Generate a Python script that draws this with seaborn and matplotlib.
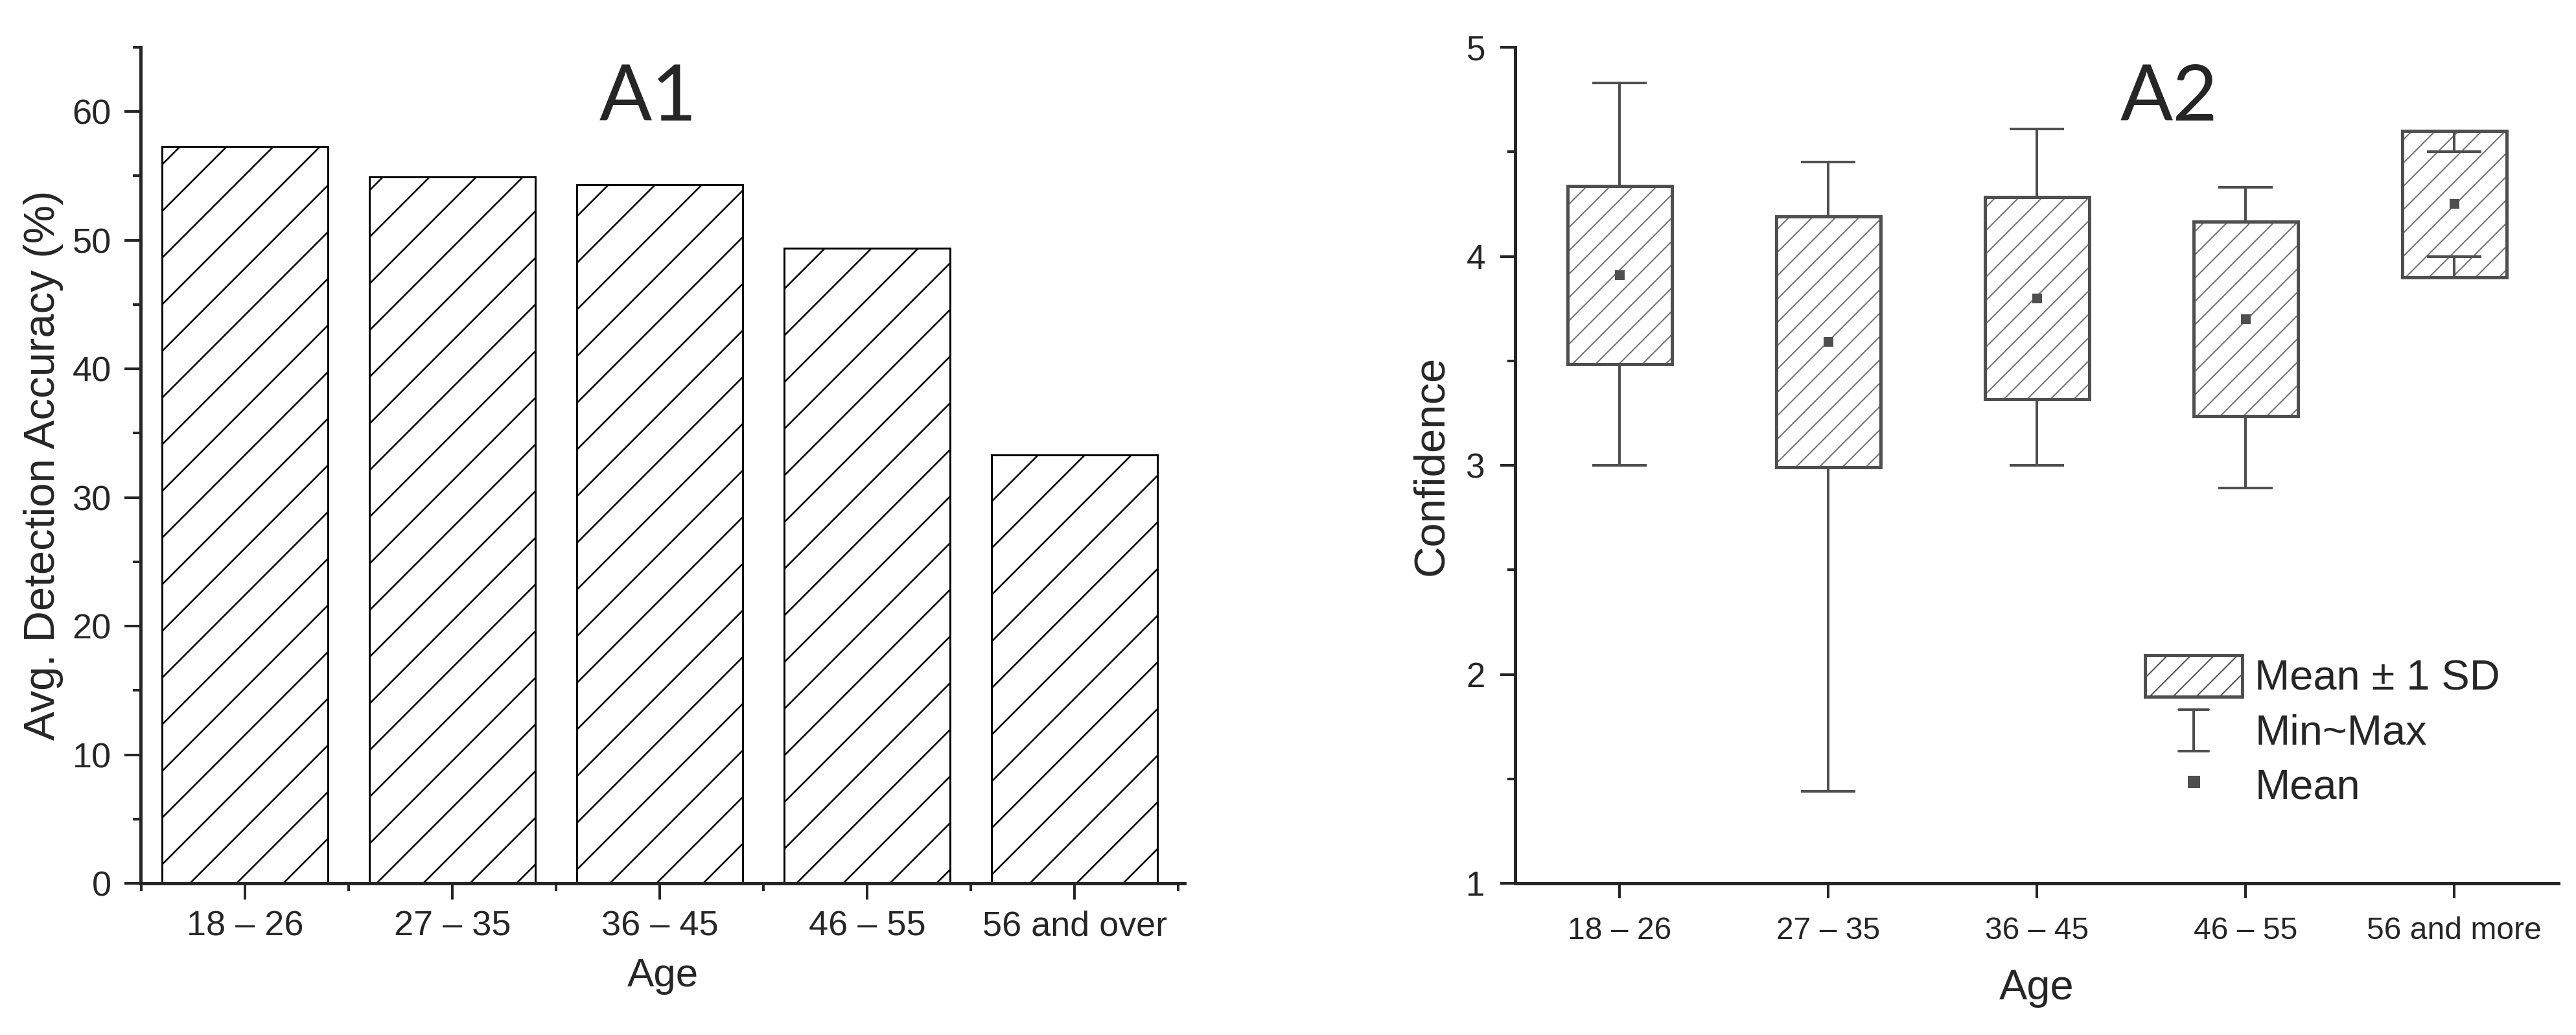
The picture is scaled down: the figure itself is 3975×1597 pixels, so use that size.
import numpy as np
import matplotlib
matplotlib.use('Agg')
import matplotlib.pyplot as plt
import seaborn as sns
from matplotlib.legend_handler import HandlerBase
from matplotlib.lines import Line2D
from matplotlib.patches import Patch
from matplotlib.ticker import MultipleLocator

sns.set_style("ticks")
plt.rcParams['font.family'] = ['Liberation Sans', 'DejaVu Sans']

# ---------------- data
age_a1 = ['18 – 26', '27 – 35', '36 – 45', '46 – 55', '56 and over']
accuracy = [57.3, 54.9, 54.3, 49.4, 33.3]

age_a2 = ['18 – 26', '27 – 35', '36 – 45', '46 – 55', '56 and more']
conf_mean = [3.91, 3.59, 3.80, 3.70, 4.25]
conf_sd = [0.425, 0.60, 0.485, 0.465, 0.35]
conf_min = [3.0, 1.44, 3.0, 2.89, 4.0]
conf_max = [4.83, 4.45, 4.61, 4.33, 4.5]

GREY = '#4f4f4f'
HATCH_GREY = '#707070'
DPI = 216  # hatch cell = DPI px, so '/' gives ~36 px spacing


def pt(px):
    # sizes below are measured in output pixels
    return px * 72 / DPI


fig = plt.figure(figsize=(3975 / DPI, 1597 / DPI), dpi=DPI)
ax1 = fig.add_axes([217 / 3975, 234 / 1597, 1611 / 3975, 1290 / 1597])
ax2 = fig.add_axes([2338 / 3975, 234 / 1597, 1610 / 3975, 1290 / 1597])

# ---------------- A1 : bar chart
plt.rcParams['hatch.linewidth'] = pt(2.6)
sns.barplot(x=age_a1, y=accuracy, ax=ax1, color='white', edgecolor='black',
            linewidth=pt(3), width=0.8, hatch='/', saturation=1, errorbar=None)
for p in ax1.patches:
    if hasattr(p, 'set_hatch_linewidth'):
        p.set_hatch_linewidth(pt(2.6))

ax1.set_xlim(-0.503, 4.53)
ax1.set_ylim(0, 65)
ax1.yaxis.set_major_locator(MultipleLocator(10))
ax1.yaxis.set_minor_locator(MultipleLocator(5))
ax1.set_xticks(np.arange(-0.5, 5, 1), minor=True)
ax1.set_xlabel('Age', fontsize=pt(62))
ax1.set_ylabel('Avg. Detection Accuracy (%)', fontsize=pt(67))
ax1.xaxis.set_label_coords(0.5, -0.089)
ax1.yaxis.set_label_coords(-0.074, 0.5)
ax1.tick_params(axis='both', which='major', direction='out', length=pt(25), width=pt(4), labelsize=pt(54))
ax1.tick_params(axis='both', which='minor', direction='out', length=pt(12), width=pt(4))
ax1.tick_params(axis='x', which='major', pad=pt(16))
ax1.tick_params(axis='y', which='major', pad=pt(20))
sns.despine(ax=ax1)
for s in ['left', 'bottom']:
    ax1.spines[s].set_linewidth(pt(5))

# ---------------- A2 : mean +- SD boxes with min/max whiskers
plt.rcParams['hatch.linewidth'] = pt(2)
x_pos = np.arange(len(age_a2))
mean = np.array(conf_mean)
sd = np.array(conf_sd)
sd_lo = mean - sd
sd_hi = mean + sd

# hatch fill in a lighter grey, outline drawn on top in dark grey
fills = ax2.bar(x_pos, 2 * sd, bottom=sd_lo, width=0.5, color='white',
                edgecolor=HATCH_GREY, linewidth=0, hatch='//', zorder=2)
for p in fills:
    if hasattr(p, 'set_hatch_linewidth'):
        p.set_hatch_linewidth(pt(2))
ax2.bar(x_pos, 2 * sd, bottom=sd_lo, width=0.5, fill=False,
        edgecolor=GREY, linewidth=pt(5), zorder=2.5)

ax2.vlines(x_pos, sd_hi, conf_max, color=GREY, linewidth=pt(4), zorder=3)
ax2.vlines(x_pos, conf_min, sd_lo, color=GREY, linewidth=pt(4), zorder=3)
ax2.hlines(conf_max, x_pos - 0.13, x_pos + 0.13, color=GREY, linewidth=pt(4), zorder=3)
ax2.hlines(conf_min, x_pos - 0.13, x_pos + 0.13, color=GREY, linewidth=pt(4), zorder=3)
sns.scatterplot(x=x_pos, y=conf_mean, ax=ax2, marker='s', s=pt(15) ** 2, color=GREY,
                edgecolor='none', zorder=4, legend=False)

ax2.set_xlim(-0.5, 4.5)
ax2.set_ylim(1, 5)
ax2.set_xticks(x_pos, labels=age_a2)
ax2.yaxis.set_major_locator(MultipleLocator(1))
ax2.yaxis.set_minor_locator(MultipleLocator(0.5))
ax2.set_xlabel('Age', fontsize=pt(65))
ax2.set_ylabel('Confidence', fontsize=pt(67))
ax2.xaxis.set_label_coords(0.5, -0.102)
ax2.yaxis.set_label_coords(-0.061, 0.5)
ax2.tick_params(axis='x', which='major', direction='out', length=pt(23), width=pt(4),
                labelsize=pt(48), pad=pt(28))
ax2.tick_params(axis='y', which='major', direction='out', length=pt(23), width=pt(4),
                labelsize=pt(53), pad=pt(23))
ax2.tick_params(axis='y', which='minor', direction='out', length=pt(12), width=pt(4))
sns.despine(ax=ax2)
for s in ['left', 'bottom']:
    ax2.spines[s].set_linewidth(pt(5))


class MinMaxHandler(HandlerBase):
    def create_artists(self, legend, orig_handle, xdescent, ydescent,
                       width, height, fontsize, trans):
        cx = width / 2 - xdescent
        y0 = -ydescent
        y1 = height - ydescent
        cap = width * 0.155
        arts = [Line2D([cx, cx], [y0, y1]),
                Line2D([cx - cap, cx + cap], [y1, y1]),
                Line2D([cx - cap, cx + cap], [y0, y0])]
        for a in arts:
            a.set_color(GREY)
            a.set_linewidth(pt(4))
            a.set_transform(trans)
        return arts


box_handle = Patch(facecolor='white', edgecolor=GREY, linewidth=pt(5), hatch='//')
whisk_handle = Line2D([], [], color=GREY)
mean_handle = Line2D([], [], marker='s', linestyle='none', color=GREY, markersize=pt(16))
ax2.legend([box_handle, whisk_handle, mean_handle], ['Mean ± 1 SD', 'Min~Max', 'Mean'],
           handler_map={whisk_handle: MinMaxHandler()},
           loc='upper left', bbox_to_anchor=(0.604, 0.273), frameon=False,
           fontsize=pt(65), handlelength=2.3, handleheight=1.14, handletextpad=0.3,
           labelspacing=0.26, borderpad=0, borderaxespad=0)

# ---------------- panel titles
fig.text(1000 / 3975, 1 - 152 / 1597, 'A1', fontsize=pt(120), ha='center', va='center',
         family=['Lato', 'DejaVu Sans'])
fig.text(3347 / 3975, 1 - 152 / 1597, 'A2', fontsize=pt(120), ha='center', va='center',
         family=['Lato', 'DejaVu Sans'])

fig.savefig('out.png', dpi=DPI)
